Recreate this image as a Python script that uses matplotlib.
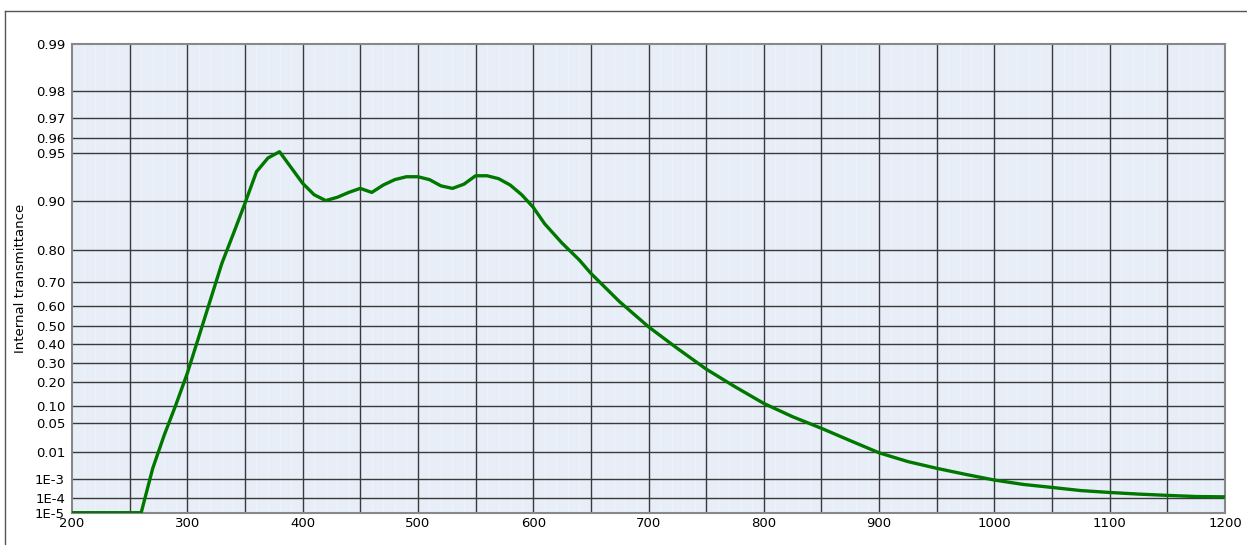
import numpy as np
import matplotlib
matplotlib.use('Agg')
import matplotlib.pyplot as plt
from matplotlib.ticker import FixedLocator, FixedFormatter, MultipleLocator
from matplotlib.lines import Line2D

# Datos
longitud_onda = [200, 260, 270, 280, 290, 300, 310, 320, 330, 340, 350, 360, 370, 380,
                 400, 410, 420, 430, 440, 450, 460, 470, 480, 490, 500, 510, 520, 530,
                 540, 550, 560, 570, 580, 590, 600, 610, 625, 640, 650, 675, 700, 725,
                 750, 775, 800, 825, 850, 875, 900, 925, 950, 975, 1000, 1025, 1050,
                 1075, 1100, 1125, 1150, 1175, 1200]
transmitancia = [1e-5, 1e-5, 2.7e-3, 0.0278, 0.102, 0.243, 0.442, 0.625, 0.763, 0.841,
                 0.896, 0.934, 0.946, 0.9507, 0.922, 0.908, 0.900, 0.9045, 0.911, 0.916,
                 0.911, 0.920, 0.926, 0.929, 0.929, 0.926, 0.919, 0.916, 0.921, 0.930,
                 0.930, 0.927, 0.920, 0.908, 0.890, 0.861, 0.819, 0.773, 0.730, 0.617,
                 0.495, 0.378, 0.265, 0.177, 0.108, 0.0659, 0.0393, 0.0203, 0.0093,
                 0.0048, 0.00272, 0.00155, 8.7e-4, 5.4e-4, 3.8e-4, 2.6e-4, 2.05e-4,
                 1.66e-4, 1.4e-4, 1.2e-4, 1.15e-4]

y_ticks = [1e-5, 1e-4, 1e-3, 0.01, 0.05, 0.10, 0.20, 0.30, 0.40, 0.50, 0.60, 0.70,
           0.80, 0.90, 0.95, 0.96, 0.97, 0.98, 0.99]
y_labels = ['1E-5', '1E-4', '1E-3', '0.01', '0.05', '0.10', '0.20', '0.30', '0.40',
            '0.50', '0.60', '0.70', '0.80', '0.90', '0.95', '0.96', '0.97', '0.98', '0.99']
x_ticks = [200, 300, 400, 500, 600, 700, 800, 900, 1000, 1100, 1200]


# escala doble logaritmica (tipo diagrama de transmitancia)
def adelante(t):
    t = np.clip(np.asarray(t, dtype=float), 1e-12, 1 - 1e-12)
    return -np.log10(-np.log10(t))


def inversa(y):
    return 10 ** (-10 ** (-np.asarray(y, dtype=float)))


plt.rcParams['font.family'] = 'DejaVu Sans'
fig = plt.figure(figsize=(12.47, 5.45), dpi=100)
ax = fig.add_axes([72 / 1247, 1 - 512.7 / 545, (1225 - 72) / 1247, (512.7 - 44.3) / 545])

ax.set_facecolor('#e8eef8')
ax.set_yscale('function', functions=(adelante, inversa))
ax.set_xlim(200, 1200)
ax.set_ylim(1e-5, 0.99)

ax.yaxis.set_major_locator(FixedLocator(y_ticks))
ax.yaxis.set_major_formatter(FixedFormatter(y_labels))
ax.yaxis.set_minor_locator(FixedLocator([]))
ax.xaxis.set_major_locator(FixedLocator(x_ticks))
ax.xaxis.set_minor_locator(MultipleLocator(10))

# rayas claras del fondo
for x in range(210, 1200, 10):
    if x % 50 != 0:
        ax.axvline(x, color='white', lw=0.8, alpha=0.3, zorder=0.5)

# rejilla
for x in range(250, 1200, 50):
    ax.axvline(x, color='#3a3a3a', lw=1.0, zorder=1)
for t in y_ticks[1:-1]:
    ax.axhline(t, color='#3a3a3a', lw=1.0, zorder=1)

ax.plot(longitud_onda, transmitancia, color='#007800', lw=2.4, zorder=3,
        solid_joinstyle='round')

ax.tick_params(axis='both', which='both', length=0, labelsize=9.5, colors='#000000')
ax.tick_params(axis='y', pad=5)
ax.tick_params(axis='x', pad=3)
ax.set_ylabel('Internal transmittance', fontsize=9.5, labelpad=6)

for lado in ['top', 'bottom', 'left', 'right']:
    ax.spines[lado].set_color('#888888')
    ax.spines[lado].set_linewidth(1.5)

# marco exterior
fig.add_artist(Line2D([4.5 / 1247, 1], [1 - 11 / 545, 1 - 11 / 545], color='#555555', lw=1.0))
fig.add_artist(Line2D([4.5 / 1247, 4.5 / 1247], [0, 1 - 11 / 545], color='#555555', lw=1.0))

fig.savefig('out.png', dpi=100)
